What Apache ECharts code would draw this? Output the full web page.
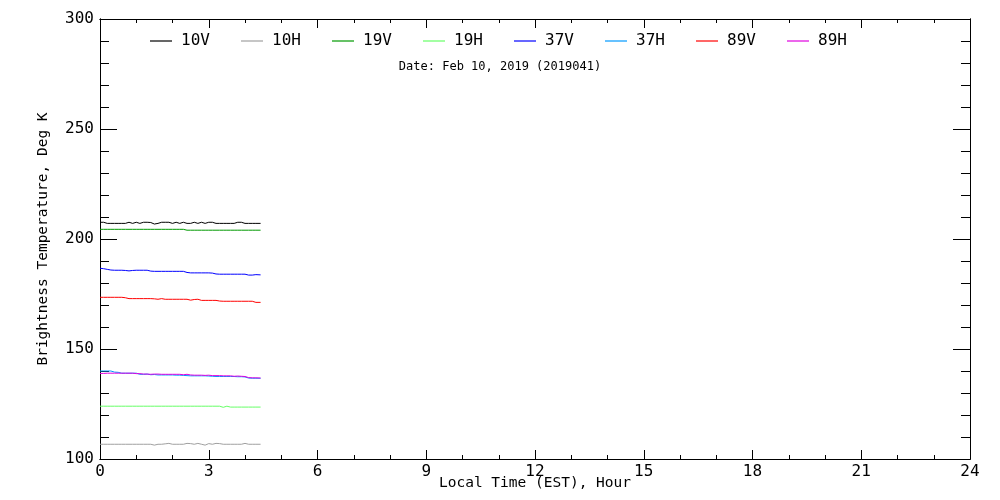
<!DOCTYPE html>
<html>
<head>
<meta charset="utf-8">
<script src="https://cdn.jsdelivr.net/npm/echarts@6/dist/echarts.min.js"></script>
<style>html,body{margin:0;padding:0;background:#fff;}#c{width:1000px;height:500px;}</style>
</head>
<body>
<div id="c"></div>
<script>
const seriesNames = ['10V', '10H', '19V', '19H', '37V', '37H', '89V', '89H'];
const seriesColors = ['#000000', '#a0a0a0', '#009900', '#66ff66', '#0000ff', '#0099ff', '#ff0000', '#e000e0'];
const xTicks = [0, 3, 6, 9, 12, 15, 18, 21, 24];
const yTicks = [100, 150, 200, 250, 300];
const dateLabel = 'Date: Feb 10, 2019 (2019041)';

const hours = [0.0, 0.1, 0.2, 0.3, 0.4, 0.5, 0.6, 0.7, 0.8, 0.9, 1.0, 1.1, 1.2, 1.3, 1.4, 1.5, 1.6, 1.7, 1.8, 1.9, 2.0, 2.1, 2.2, 2.3, 2.4, 2.5, 2.6, 2.7, 2.8, 2.9, 3.0, 3.1, 3.2, 3.3, 3.4, 3.5, 3.6, 3.7, 3.8, 3.9, 4.0, 4.1, 4.2, 4.3, 4.43];

const tb10V = [207.6, 207.6, 207.1, 207.1, 207.1, 207.1, 207.1, 207.1, 207.6, 207.1, 207.6, 207.1, 207.6, 207.6, 207.5, 206.8, 207.1, 207.6, 207.6, 207.6, 207.1, 207.6, 207.1, 207.6, 207.1, 207.1, 207.6, 207.1, 207.6, 207.1, 207.6, 207.6, 207.1, 207.1, 207.1, 207.1, 207.1, 207.1, 207.6, 207.6, 207.1, 207.1, 207.1, 207.1, 207.1];
const tb10H = [106.7, 106.7, 106.7, 106.7, 106.7, 106.7, 106.7, 106.7, 106.7, 106.7, 106.7, 106.7, 106.7, 106.7, 106.7, 106.3, 106.7, 106.7, 106.9, 107.1, 106.7, 106.7, 106.7, 106.7, 107.1, 107.0, 106.7, 107.1, 106.7, 106.3, 107.0, 106.7, 107.1, 107.0, 106.7, 106.7, 106.7, 106.7, 106.7, 106.7, 107.1, 106.7, 106.7, 106.7, 106.7];
const tb19V = [204.4, 204.4, 204.4, 204.4, 204.4, 204.4, 204.4, 204.4, 204.4, 204.4, 204.4, 204.4, 204.4, 204.4, 204.4, 204.4, 204.4, 204.4, 204.4, 204.4, 204.4, 204.4, 204.4, 204.4, 204.0, 204.0, 204.0, 204.0, 204.0, 204.0, 204.0, 204.0, 204.0, 204.0, 204.0, 204.0, 204.0, 204.0, 204.0, 204.0, 204.0, 204.0, 204.0, 204.0, 204.0];
const tb19H = [124.0, 124.0, 124.0, 124.0, 124.0, 124.0, 124.0, 124.0, 124.0, 124.0, 124.0, 124.0, 124.0, 124.0, 124.0, 124.0, 124.0, 124.0, 124.0, 124.0, 124.0, 124.0, 124.0, 124.0, 124.0, 124.0, 124.0, 124.0, 124.0, 124.0, 124.0, 124.0, 124.0, 124.0, 123.5, 124.0, 123.6, 123.6, 123.6, 123.6, 123.6, 123.6, 123.6, 123.6, 123.6];
const tb37V = [186.7, 186.5, 186.2, 185.9, 185.8, 185.8, 185.8, 185.7, 185.5, 185.7, 185.8, 185.8, 185.8, 185.8, 185.4, 185.3, 185.3, 185.3, 185.3, 185.3, 185.3, 185.3, 185.3, 185.3, 184.8, 184.6, 184.6, 184.6, 184.6, 184.6, 184.6, 184.5, 184.1, 184.0, 184.0, 184.0, 184.0, 184.0, 184.0, 184.0, 184.0, 183.6, 183.6, 183.8, 183.7];
const tb37H = [140.0, 140.0, 140.0, 140.0, 139.5, 139.4, 139.0, 139.0, 139.0, 139.0, 139.0, 138.5, 138.5, 138.6, 138.3, 138.4, 138.2, 138.2, 138.2, 138.2, 138.2, 138.1, 138.1, 138.0, 137.9, 137.8, 137.8, 137.8, 137.8, 137.8, 137.7, 137.6, 137.5, 137.5, 137.5, 137.5, 137.5, 137.5, 137.4, 137.4, 137.3, 136.8, 136.7, 136.7, 136.7];
const tb89V = [173.5, 173.5, 173.5, 173.5, 173.5, 173.5, 173.5, 173.3, 172.9, 172.9, 172.9, 172.9, 172.9, 172.9, 172.9, 172.8, 172.6, 172.9, 172.6, 172.6, 172.6, 172.6, 172.6, 172.6, 172.6, 172.2, 172.5, 172.6, 172.1, 172.1, 172.1, 172.1, 172.1, 171.8, 171.7, 171.7, 171.7, 171.7, 171.7, 171.7, 171.7, 171.7, 171.7, 171.2, 171.2];
const tb89H = [138.9, 138.9, 139.0, 139.0, 139.0, 139.0, 139.0, 139.0, 139.0, 139.0, 138.8, 138.8, 138.6, 138.6, 138.5, 138.6, 138.6, 138.5, 138.5, 138.5, 138.5, 138.5, 138.5, 138.3, 138.5, 138.2, 138.1, 138.1, 138.1, 138.0, 138.1, 137.9, 137.9, 137.9, 137.8, 137.8, 137.8, 137.6, 137.7, 137.6, 137.5, 137.0, 136.9, 136.9, 136.8];

const allValues = [tb10V, tb10H, tb19V, tb19H, tb37V, tb37H, tb89V, tb89H];

const FONT = 'DejaVu Sans Mono';
const chart = echarts.init(document.getElementById('c'), null, {renderer: 'canvas'});

const series = seriesNames.map((name, i) => ({
  name: name,
  type: 'line',
  xAxisIndex: 0,
  yAxisIndex: 0,
  data: hours.map((h, k) => [h, allValues[i][k]]),
  showSymbol: false,
  symbol: 'none',
  lineStyle: {color: seriesColors[i], width: 1},
  itemStyle: {color: seriesColors[i]},
  animation: false
}));

const legends = seriesNames.map((name, i) => ({
  data: [name],
  left: 150 + i * 91,
  top: 33,
  icon: 'rect',
  itemWidth: 22,
  itemHeight: 1.2,
  itemGap: 0,
  padding: 0,
  textStyle: {fontFamily: FONT, fontSize: 16, color: '#000', padding: [0, 0, 0, 4]},
  selectedMode: false
}));

const lineStyleBlack = {color: '#000', width: 1};
const mainRect = {left: 100, right: 30, top: 19, bottom: 41, containLabel: false};
const rightRect = {left: 970, width: 1, top: 19, bottom: 41, containLabel: false};

function makeX(gridIndex, position, interval, tickLen, show, withLabels, withName) {
  const ax = {
    type: 'value', gridIndex: gridIndex, position: position, show: show,
    min: xTicks[0], max: xTicks[xTicks.length - 1], interval: interval,
    axisLine: {show: true, lineStyle: lineStyleBlack},
    splitLine: {show: false},
    axisTick: {show: true, inside: true, length: tickLen, lineStyle: lineStyleBlack},
    axisLabel: withLabels ? {show: true, margin: 5, fontFamily: FONT, fontSize: 16, color: '#000'} : {show: false}
  };
  if (withName) {
    ax.name = 'Local Time (EST), Hour';
    ax.nameLocation = 'middle';
    ax.nameGap = 17;
    ax.nameMoveOverlap = false;
    ax.nameTextStyle = {fontFamily: FONT, fontSize: 14.5, color: '#000'};
  }
  return ax;
}
function makeY(gridIndex, interval, tickLen, inside, withLabels, withName) {
  const ax = {
    type: 'value', gridIndex: gridIndex, position: 'left',
    min: yTicks[0], max: yTicks[yTicks.length - 1], interval: interval,
    axisLine: {show: true, lineStyle: lineStyleBlack},
    splitLine: {show: false},
    axisTick: {show: true, inside: inside, length: tickLen, lineStyle: lineStyleBlack},
    axisLabel: withLabels ? {show: true, margin: 6, fontFamily: FONT, fontSize: 16, color: '#000'} : {show: false}
  };
  if (withName) {
    ax.name = 'Brightness Temperature, Deg K';
    ax.nameLocation = 'middle';
    ax.nameGap = 49;
    ax.nameMoveOverlap = false;
    ax.nameTextStyle = {fontFamily: FONT, fontSize: 14.5, color: '#000'};
  }
  return ax;
}

chart.setOption({
  backgroundColor: '#fff',
  animation: false,
  title: {
    text: dateLabel,
    left: 'center',
    top: 61,
    padding: 0,
    textStyle: {fontFamily: FONT, fontSize: 12, fontWeight: 'normal', color: '#000'}
  },
  legend: legends,
  grid: [mainRect, Object.assign({}, mainRect), rightRect, Object.assign({}, rightRect)],
  xAxis: [
    makeX(0, 'bottom', 3, 9, true, true, true),
    makeX(0, 'top', 3, 9, true, false, false),
    makeX(1, 'bottom', 1, 4, true, false, false),
    makeX(1, 'top', 1, 4, true, false, false),
    makeX(2, 'bottom', 3, 0, false, false, false),
    makeX(3, 'bottom', 3, 0, false, false, false)
  ],
  yAxis: [
    makeY(0, 50, 17, true, true, true),
    makeY(1, 10, 9, true, false, false),
    makeY(2, 50, 17, false, false, false),
    makeY(3, 10, 9, false, false, false)
  ],
  series: series
});
</script>
</body>
</html>
